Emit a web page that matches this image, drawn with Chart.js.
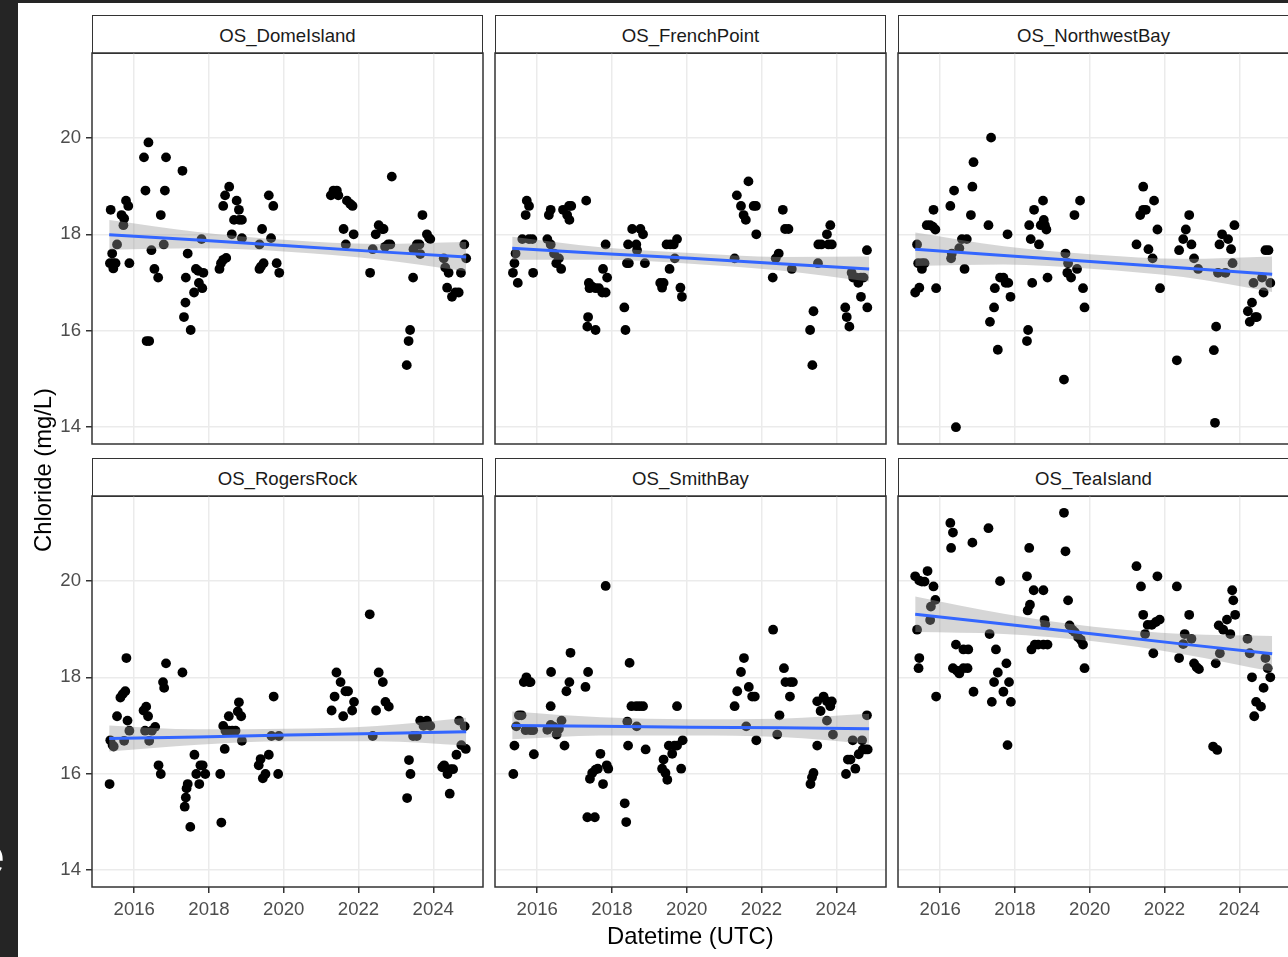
<!DOCTYPE html>
<html>
<head>
<meta charset="utf-8">
<script src="https://cdn.jsdelivr.net/npm/chart.js@4"></script>
<style>
  html, body { margin: 0; padding: 0; width: 1288px; height: 957px; overflow: hidden; background: #252525; }
  #sheet { position: absolute; left: 18px; top: 3px; width: 1290px; height: 960px; background: #ffffff; }
  canvas { position: absolute; }
  .strip { position: absolute; box-sizing: border-box; border: 1.5px solid #333333; background: #ffffff;
           font-family: "Liberation Sans", Arial, sans-serif; font-size: 18.6px; color: #1A1A1A;
           text-align: center; line-height: 39px; white-space: nowrap; overflow: hidden; }
  .title { position: absolute; font-family: "Liberation Sans", Arial, sans-serif; font-size: 23.8px; color: #000; white-space: nowrap; }
  #edgeE { position: absolute; left: -25px; top: 828px; font-family: "Liberation Sans", Arial, sans-serif; font-size: 54px; line-height: 54px; color: #ffffff; }
</style>
</head>
<body>
<div id="edgeE">e</div>
<div id="sheet"></div>
<div id="wrap"></div>
<script>
// ---------- data ----------
const xTicks = [2016, 2018, 2020, 2022, 2024];
const yTicks = [14, 16, 18, 20];
const siteNames = ['OS_DomeIsland', 'OS_FrenchPoint', 'OS_NorthwestBay', 'OS_RogersRock', 'OS_SmithBay', 'OS_TeaIsland'];

const domeYear = [2015.37,2015.41,2015.35,2015.43,2015.50,2015.44,2015.54,2015.66,2015.73,2015.71,2015.78,2015.84,2015.87,2016.26,2016.38,2016.30,2016.33,2016.40,2016.46,2016.54,2016.64,2016.71,2016.79,2016.82,2016.85,2017.29,2017.38,2017.43,2017.37,2017.33,2017.51,2017.60,2017.65,2017.71,2017.73,2017.80,2017.82,2017.85,2018.28,2018.32,2018.38,2018.46,2018.38,2018.43,2018.54,2018.61,2018.67,2018.74,2018.80,2018.81,2018.88,2018.88,2019.35,2019.39,2019.46,2019.35,2019.42,2019.60,2019.66,2019.72,2019.81,2019.88,2021.26,2021.33,2021.42,2021.46,2021.60,2021.69,2021.78,2021.84,2021.66,2021.87,2022.31,2022.38,2022.46,2022.54,2022.63,2022.67,2022.71,2022.79,2022.85,2022.89,2023.29,2023.34,2023.38,2023.46,2023.47,2023.56,2023.63,2023.65,2023.71,2023.83,2023.89,2023.92,2024.28,2024.32,2024.41,2024.37,2024.50,2024.59,2024.68,2024.74,2024.83,2024.88];
const domeCl = [18.51,17.60,17.40,17.40,17.40,17.29,17.79,18.40,18.33,18.19,18.70,18.59,17.40,19.60,19.91,18.91,15.78,15.78,17.67,17.28,17.10,18.40,17.79,18.91,19.60,19.32,17.10,17.60,16.58,16.28,16.01,16.79,17.28,17.24,16.99,17.90,16.88,17.20,17.28,17.40,17.47,17.51,18.59,18.81,18.99,18.00,18.30,18.70,18.51,18.30,18.30,17.92,17.28,17.33,17.40,17.79,18.11,18.81,17.92,18.59,17.40,17.20,18.81,18.91,18.91,18.81,18.11,18.70,18.63,18.59,17.79,18.00,17.20,17.69,18.00,18.19,18.11,18.11,17.74,17.79,17.79,19.20,15.28,15.78,16.01,17.10,17.69,17.79,17.79,17.59,18.40,18.00,17.92,17.90,17.50,17.31,17.20,16.89,16.70,16.79,16.79,17.20,17.79,17.50];

const frenchYear = [2015.35,2015.39,2015.42,2015.48,2015.60,2015.69,2015.72,2015.78,2015.78,2015.87,2015.89,2016.27,2016.31,2016.36,2016.36,2016.45,2016.51,2016.58,2016.64,2016.69,2016.80,2016.86,2016.85,2016.91,2017.31,2017.38,2017.40,2017.47,2017.56,2017.65,2017.74,2017.83,2017.76,2017.87,2017.83,2017.36,2017.34,2017.56,2018.33,2018.36,2018.40,2018.45,2018.43,2018.54,2018.65,2018.67,2018.76,2018.83,2018.88,2019.29,2019.34,2019.38,2019.46,2019.54,2019.56,2019.65,2019.68,2019.74,2019.83,2019.87,2021.28,2021.34,2021.45,2021.52,2021.58,2021.65,2021.79,2021.85,2021.86,2022.30,2022.38,2022.46,2022.57,2022.63,2022.72,2022.81,2023.30,2023.36,2023.39,2023.51,2023.52,2023.60,2023.75,2023.79,2023.84,2023.88,2024.24,2024.28,2024.35,2024.41,2024.45,2024.54,2024.59,2024.66,2024.73,2024.66,2024.82,2024.83];
const frenchCl = [17.20,17.40,17.60,16.99,17.90,18.40,18.70,18.59,17.90,17.90,17.20,17.90,18.40,18.51,17.79,17.60,17.40,17.50,17.28,18.51,18.40,18.30,18.59,18.59,18.70,16.99,16.88,16.91,16.88,16.88,16.79,16.79,17.28,17.10,17.79,16.28,16.08,16.01,16.48,16.01,17.40,17.40,17.79,18.11,17.79,17.67,18.11,18.00,17.40,16.99,16.89,16.99,17.79,17.28,17.79,17.79,17.50,17.90,16.89,16.70,17.50,18.81,18.59,18.40,18.30,19.10,18.59,18.59,18.00,17.10,17.50,17.60,18.51,18.11,18.11,17.28,16.01,15.28,16.40,17.40,17.79,17.79,18.00,17.79,18.19,17.79,16.48,16.28,16.08,17.20,17.10,17.10,16.99,17.10,17.10,16.70,17.67,16.48];

const northwestYear = [2015.38,2015.41,2015.51,2015.58,2015.51,2015.33,2015.44,2015.64,2015.73,2015.80,2015.87,2015.82,2015.89,2016.27,2016.37,2016.29,2016.31,2016.42,2016.51,2016.58,2016.71,2016.65,2016.82,2016.86,2016.89,2017.29,2017.36,2017.33,2017.44,2017.46,2017.54,2017.60,2017.69,2017.75,2017.82,2017.80,2017.88,2018.32,2018.35,2018.38,2018.42,2018.46,2018.51,2018.64,2018.69,2018.77,2018.80,2018.84,2018.75,2018.87,2019.31,2019.35,2019.42,2019.40,2019.50,2019.66,2019.59,2019.74,2019.82,2019.86,2021.25,2021.35,2021.43,2021.50,2021.43,2021.57,2021.68,2021.72,2021.81,2021.88,2022.33,2022.39,2022.50,2022.57,2022.66,2022.72,2022.79,2022.90,2023.32,2023.35,2023.38,2023.43,2023.47,2023.54,2023.63,2023.70,2023.78,2023.82,2023.87,2024.23,2024.28,2024.34,2024.43,2024.47,2024.38,2024.61,2024.65,2024.83,2024.70,2024.78];
const northwestCl = [17.79,17.40,17.40,17.40,17.28,16.79,16.89,18.19,18.19,18.16,18.10,18.51,16.88,18.59,18.91,17.50,17.60,13.99,17.71,17.90,17.90,17.28,18.40,18.99,19.50,18.19,20.01,16.18,16.48,16.88,15.60,17.10,17.10,16.99,16.99,18.00,16.70,15.78,16.01,18.19,17.90,16.99,18.51,17.79,18.19,18.30,18.19,18.10,18.70,17.10,14.98,17.60,17.40,17.20,17.10,17.28,18.40,18.70,16.88,16.48,17.79,18.40,18.51,18.51,18.99,17.69,17.50,18.70,18.10,16.88,15.38,17.67,17.90,18.10,18.40,17.79,17.50,17.28,15.59,14.08,16.08,17.20,17.79,18.00,17.20,17.90,17.69,17.40,18.19,16.40,16.18,16.58,16.28,16.28,16.99,17.10,16.79,16.99,17.67,17.67];

const rogersYear = [2015.34,2015.36,2015.42,2015.45,2015.54,2015.63,2015.69,2015.76,2015.79,2015.82,2015.87,2015.73,2016.25,2016.32,2016.37,2016.29,2016.40,2016.47,2016.56,2016.65,2016.71,2016.77,2016.80,2016.85,2017.29,2017.35,2017.38,2017.40,2017.43,2017.50,2017.61,2017.66,2017.74,2017.77,2017.83,2017.90,2018.30,2018.33,2018.38,2018.42,2018.44,2018.53,2018.62,2018.71,2018.53,2018.77,2018.80,2018.86,2018.88,2019.33,2019.38,2019.44,2019.51,2019.60,2019.67,2019.87,2019.73,2019.85,2021.28,2021.36,2021.41,2021.52,2021.65,2021.72,2021.83,2021.88,2021.59,2022.30,2022.38,2022.47,2022.54,2022.65,2022.72,2022.81,2023.30,2023.35,2023.39,2023.46,2023.56,2023.65,2023.74,2023.83,2023.92,2024.24,2024.29,2024.38,2024.46,2024.53,2024.44,2024.62,2024.69,2024.75,2024.87,2024.84];
const rogersCl = [15.78,16.69,16.59,16.56,17.19,17.58,17.65,17.71,18.40,17.10,16.89,16.68,17.31,17.39,17.19,16.89,16.68,16.89,16.97,16.17,15.99,17.90,17.78,18.29,18.10,15.31,15.50,15.69,15.78,14.89,16.39,15.99,15.78,16.17,16.17,15.99,15.99,14.98,16.99,16.51,16.89,16.89,16.89,16.89,17.19,17.29,17.48,17.19,16.68,16.17,16.30,15.90,15.99,16.39,16.78,16.78,17.60,15.99,17.31,17.60,18.10,17.90,17.71,17.71,17.31,17.49,17.19,19.31,16.78,17.31,18.10,17.90,17.49,17.39,15.49,16.28,15.99,16.78,16.78,17.10,16.99,17.10,16.99,16.13,16.17,15.99,16.09,16.09,15.58,16.39,17.10,16.59,16.51,16.98];

const smithYear = [2015.36,2015.39,2015.44,2015.51,2015.58,2015.64,2015.71,2015.78,2015.82,2015.69,2015.82,2015.89,2015.91,2016.27,2016.36,2016.45,2016.52,2016.58,2016.65,2016.36,2016.37,2016.73,2016.78,2016.86,2016.89,2017.29,2017.36,2017.34,2017.54,2017.41,2017.47,2017.56,2017.62,2017.69,2017.76,2017.83,2017.86,2017.90,2018.34,2018.38,2018.41,2018.43,2018.47,2018.52,2018.65,2018.74,2018.83,2018.66,2018.90,2019.34,2019.38,2019.43,2019.48,2019.52,2019.61,2019.67,2019.74,2019.89,2019.74,2019.85,2021.28,2021.35,2021.45,2021.53,2021.59,2021.66,2021.75,2021.82,2021.86,2022.31,2022.42,2022.48,2022.60,2022.64,2022.77,2022.84,2022.76,2023.31,2023.35,2023.39,2023.49,2023.49,2023.58,2023.66,2023.75,2023.84,2023.88,2023.75,2023.91,2024.26,2024.31,2024.38,2024.51,2024.44,2024.69,2024.60,2024.71,2024.78,2024.84,2024.82];
const smithCl = [15.99,16.58,16.98,17.21,17.21,17.90,18.00,17.90,17.90,16.90,16.90,16.90,16.40,16.91,17.01,16.97,16.81,16.93,17.10,17.40,18.11,16.58,17.71,17.90,18.51,17.80,18.11,15.09,15.09,15.89,16.01,16.08,16.10,16.41,15.78,19.90,16.17,16.10,15.38,14.99,17.08,16.58,18.30,17.40,17.40,17.40,17.40,16.98,16.50,16.10,16.29,16.01,15.87,16.58,16.41,16.58,16.58,16.69,17.40,16.10,17.40,17.71,18.11,18.40,16.98,17.80,17.60,17.60,16.69,18.99,16.81,17.21,18.19,17.90,17.90,17.90,17.60,15.78,15.92,16.01,16.58,17.50,17.30,17.60,17.50,17.40,17.50,17.10,16.81,15.99,16.29,16.29,16.10,16.69,16.69,16.40,16.50,16.50,16.50,17.21];

const teaYear = [2015.33,2015.44,2015.51,2015.58,2015.66,2015.82,2015.87,2015.75,2015.73,2015.38,2015.44,2015.42,2015.89,2016.27,2016.34,2016.29,2016.42,2016.62,2016.75,2016.34,2016.44,2016.51,2016.62,2016.73,2016.86,2016.89,2017.29,2017.32,2017.38,2017.44,2017.49,2017.54,2017.60,2017.69,2017.77,2017.84,2017.89,2017.80,2018.32,2018.38,2018.34,2018.40,2018.50,2018.76,2018.44,2018.53,2018.62,2018.76,2018.87,2018.79,2018.81,2019.31,2019.35,2019.42,2019.46,2019.53,2019.60,2019.69,2019.76,2019.82,2019.86,2021.25,2021.37,2021.43,2021.55,2021.66,2021.77,2021.87,2021.48,2021.70,2021.81,2022.33,2022.39,2022.50,2022.54,2022.66,2022.72,2022.79,2022.86,2022.92,2023.30,2023.41,2023.37,2023.48,2023.45,2023.57,2023.67,2023.76,2023.81,2023.84,2023.89,2024.22,2024.28,2024.34,2024.40,2024.45,2024.58,2024.65,2024.70,2024.76,2024.83];
const teaCl = [20.10,20.01,19.99,19.99,20.21,19.89,19.61,19.47,19.19,18.99,18.40,18.19,17.60,21.21,21.01,20.69,18.68,18.58,18.58,18.19,18.14,18.08,18.19,18.19,20.80,17.70,21.10,18.90,17.49,17.90,18.58,18.10,20.00,17.70,18.29,17.90,17.49,16.59,20.10,20.69,19.39,19.51,19.81,19.81,18.58,18.68,18.68,18.68,18.68,19.19,19.10,21.42,20.62,19.60,19.08,18.99,18.94,18.83,18.78,18.68,18.19,20.31,19.89,19.30,19.09,19.09,19.15,19.20,18.90,18.50,20.10,19.89,18.40,18.69,18.90,19.30,18.80,18.29,18.21,18.17,16.56,16.49,18.29,18.50,19.08,18.99,19.20,18.90,19.81,19.60,19.30,18.80,18.50,18.00,17.19,17.49,17.39,17.78,18.40,18.19,18.00];

// linear-trend line and its grey band at these dates
const fitYear = [2015.33, 2017.7, 2020.1, 2022.5, 2024.88];
const domeFit = [17.99, 17.88, 17.76, 17.64, 17.53];
const domeHi  = [18.30, 18.05, 17.88, 17.80, 17.84];
const domeLo  = [17.68, 17.71, 17.64, 17.48, 17.23];
const frenchFit = [17.71, 17.60, 17.50, 17.39, 17.28];
const frenchHi  = [17.95, 17.73, 17.61, 17.53, 17.54];
const frenchLo  = [17.47, 17.47, 17.39, 17.25, 17.02];
const northwestFit = [17.69, 17.56, 17.43, 17.30, 17.17];
const northwestHi  = [18.04, 17.75, 17.58, 17.49, 17.54];
const northwestLo  = [17.34, 17.37, 17.28, 17.11, 16.80];
const rogersFit = [16.73, 16.76, 16.80, 16.83, 16.87];
const rogersHi  = [17.00, 16.92, 16.93, 16.99, 17.16];
const rogersLo  = [16.46, 16.60, 16.67, 16.67, 16.58];
const smithFit = [17.00, 16.98, 16.96, 16.95, 16.93];
const smithHi  = [17.29, 17.17, 17.13, 17.14, 17.24];
const smithLo  = [16.71, 16.79, 16.79, 16.76, 16.62];
const teaFit = [19.31, 19.11, 18.90, 18.69, 18.49];
const teaHi  = [19.68, 19.32, 19.05, 18.90, 18.86];
const teaLo  = [18.94, 18.90, 18.75, 18.48, 18.12];

// ---------- layout ----------
const panels = [
  { name: siteNames[0], x: domeYear, y: domeCl, fit: domeFit, hi: domeHi, lo: domeLo },
  { name: siteNames[1], x: frenchYear, y: frenchCl, fit: frenchFit, hi: frenchHi, lo: frenchLo },
  { name: siteNames[2], x: northwestYear, y: northwestCl, fit: northwestFit, hi: northwestHi, lo: northwestLo },
  { name: siteNames[3], x: rogersYear, y: rogersCl, fit: rogersFit, hi: rogersHi, lo: rogersLo },
  { name: siteNames[4], x: smithYear, y: smithCl, fit: smithFit, hi: smithHi, lo: smithLo },
  { name: siteNames[5], x: teaYear, y: teaCl, fit: teaFit, hi: teaHi, lo: teaLo }
];
const colLeft = [92, 495, 898];
const rowTop = [53, 496];
const PW = 391, PH = 391, LM = 75, BM = 45, PAD = 2, STRIP = 38;
const FONT = '"Liberation Sans", Arial, sans-serif';

const panelFrame = {
  id: 'panelFrame',
  afterDraw(chart) {
    const a = chart.chartArea, ctx = chart.ctx;
    ctx.save();
    ctx.strokeStyle = '#333333';
    ctx.lineWidth = 1.5;
    ctx.strokeRect(a.left, a.top, a.right - a.left, a.bottom - a.top);
    ctx.restore();
  }
};

function noPad(s) {
  s.paddingLeft = 0; s.paddingRight = 0; s.paddingTop = 0; s.paddingBottom = 0;
}

const wrap = document.getElementById('wrap');
panels.forEach((p, i) => {
  const col = i % 3, row = Math.floor(i / 3);
  const left = colLeft[col], top = rowTop[row];
  const showY = col === 0, showX = row === 1;

  const strip = document.createElement('div');
  strip.className = 'strip';
  strip.style.left = left + 'px';
  strip.style.top = (top - STRIP) + 'px';
  strip.style.width = PW + 'px';
  strip.style.height = (STRIP + 1) + 'px';
  strip.textContent = p.name;
  wrap.appendChild(strip);

  const cv = document.createElement('canvas');
  const W = LM + PW + PAD, H = PAD + PH + BM;
  cv.width = W; cv.height = H;
  cv.style.width = W + 'px'; cv.style.height = H + 'px';
  cv.style.left = (left - LM) + 'px';
  cv.style.top = (top - PAD) + 'px';
  wrap.appendChild(cv);

  const pts = p.x.map((v, k) => ({ x: v, y: p.y[k] }));
  const line = fitYear.map((v, k) => ({ x: v, y: p.fit[k] }));
  const hi = fitYear.map((v, k) => ({ x: v, y: p.hi[k] }));
  const lo = fitYear.map((v, k) => ({ x: v, y: p.lo[k] }));

  new Chart(cv, {
    type: 'scatter',
    data: {
      datasets: [
        { type: 'line', data: line, order: 0, borderColor: '#3366FF', borderWidth: 3, pointRadius: 0, fill: false, tension: 0 },
        { type: 'line', data: hi, order: 1, borderWidth: 0, borderColor: 'rgba(0,0,0,0)', pointRadius: 0, fill: '+1', backgroundColor: 'rgba(153,153,153,0.4)', tension: 0.3, cubicInterpolationMode: 'monotone' },
        { type: 'line', data: lo, order: 2, borderWidth: 0, borderColor: 'rgba(0,0,0,0)', pointRadius: 0, fill: false, tension: 0.3, cubicInterpolationMode: 'monotone' },
        { data: pts, order: 3, pointRadius: 4.9, pointBackgroundColor: '#000000', pointBorderWidth: 0, pointHoverRadius: 4.9 }
      ]
    },
    options: {
      responsive: false,
      animation: false,
      events: [],
      layout: { padding: { top: PAD, right: PAD, left: 0, bottom: 0 }, autoPadding: false },
      plugins: { legend: { display: false }, tooltip: { enabled: false } },
      scales: {
        x: {
          type: 'linear', min: 2014.87, max: 2025.33,
          afterBuildTicks: s => { s.ticks = xTicks.map(v => ({ value: v })); },
          afterFit: s => { s.height = BM; noPad(s); },
          border: { display: false },
          grid: { color: '#EBEBEB', lineWidth: 1.5, drawTicks: showX, tickLength: 6, tickColor: '#333333', tickWidth: 1.5 },
          ticks: { display: showX, color: '#4D4D4D', font: { family: FONT, size: 18.6 }, padding: 6, maxRotation: 0, autoSkip: false, callback: v => String(v) }
        },
        y: {
          type: 'linear', min: 13.64, max: 21.77,
          afterBuildTicks: s => { s.ticks = yTicks.map(v => ({ value: v })); },
          afterFit: s => { s.width = LM; noPad(s); },
          border: { display: false },
          grid: { color: '#EBEBEB', lineWidth: 1.5, drawTicks: showY, tickLength: 6, tickColor: '#333333', tickWidth: 1.5 },
          ticks: { display: showY, color: '#4D4D4D', font: { family: FONT, size: 18.6 }, padding: 5, autoSkip: false, callback: v => String(v) }
        }
      }
    },
    plugins: [panelFrame]
  });
});

const xt = document.createElement('div');
xt.className = 'title';
xt.textContent = 'Datetime (UTC)';
wrap.appendChild(xt);
xt.style.left = (690.5 - xt.offsetWidth / 2) + 'px';
xt.style.top = (936 - xt.offsetHeight / 2) + 'px';

const yt = document.createElement('div');
yt.className = 'title';
yt.textContent = 'Chloride (mg/L)';
wrap.appendChild(yt);
yt.style.left = (43 - yt.offsetWidth / 2) + 'px';
yt.style.top = (470 - yt.offsetHeight / 2) + 'px';
yt.style.transform = 'rotate(-90deg)';
</script>
</body>
</html>
